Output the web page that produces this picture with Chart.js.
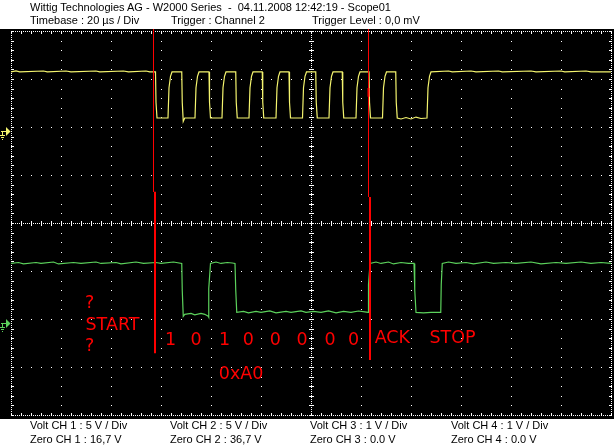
<!DOCTYPE html>
<html><head><meta charset="utf-8">
<script src="https://cdn.jsdelivr.net/npm/chart.js@4"></script>
<style>
html,body{margin:0;padding:0;background:#fff;}
#wrap{position:relative;width:614px;height:447px;overflow:hidden;}
canvas{position:absolute;left:0;top:0;}
.t{position:absolute;font-family:"Liberation Sans",Arial,sans-serif;font-size:11px;line-height:11px;color:#000;white-space:pre;}
.r{position:absolute;font-family:"DejaVu Sans",sans-serif;font-size:17.5px;line-height:17.5px;color:#ff0000;white-space:pre;}
</style></head>
<body>
<div id="wrap">
<canvas id="c" width="614" height="447"></canvas>
<div class="t" style="left:30px;top:2px">Wittig Technologies AG - W2000 Series  -  04.11.2008 12:42:19 - Scope01</div>
<div class="t" style="left:30px;top:15px">Timebase : 20 µs / Div</div>
<div class="t" style="left:171px;top:15px">Trigger : Channel 2</div>
<div class="t" style="left:312px;top:15px">Trigger Level : 0,0 mV</div>
<div class="t" style="left:30px;top:420px">Volt CH 1 : 5 V / Div</div>
<div class="t" style="left:170px;top:420px">Volt CH 2 : 5 V / Div</div>
<div class="t" style="left:310px;top:420px">Volt CH 3 : 1 V / Div</div>
<div class="t" style="left:451px;top:420px">Volt CH 4 : 1 V / Div</div>
<div class="t" style="left:30px;top:434px">Zero CH 1 : 16,7 V</div>
<div class="t" style="left:170px;top:434px">Zero CH 2 : 36,7 V</div>
<div class="t" style="left:310px;top:434px">Zero CH 3 : 0.0 V</div>
<div class="t" style="left:451px;top:434px">Zero CH 4 : 0.0 V</div>
<div class="r" style="left:85px;top:293.5px">?</div>
<div class="r" style="left:85.5px;top:316px">START</div>
<div class="r" style="left:85px;top:337px">?</div>
<div class="r" style="left:165px;top:330.7px">1</div>
<div class="r" style="left:190.5px;top:330.7px">0</div>
<div class="r" style="left:219px;top:330.7px">1</div>
<div class="r" style="left:242.8px;top:330.7px">0</div>
<div class="r" style="left:269.8px;top:330.7px">0</div>
<div class="r" style="left:296.5px;top:330.7px">0</div>
<div class="r" style="left:324.5px;top:330.7px">0</div>
<div class="r" style="left:348px;top:330.7px">0</div>
<div class="r" style="left:374.7px;top:329.2px">ACK</div>
<div class="r" style="left:429.5px;top:328.5px">STOP</div>
<div class="r" style="left:218.8px;top:364.5px">0xA0</div>
</div>
<script>
// ---- channel settings ----
const ch1VoltsPerDiv = 5;
const ch2VoltsPerDiv = 5;
const ch1GroundDiv = 1.917;   // ground marker of CH1, divisions above centre
const ch2GroundDiv = -2.083;  // ground marker of CH2
// time axis: 20 µs / div, 12 div
const timeMin = -120, timeMax = 120, timePerDiv = 20;
const divMin = -4, divMax = 4;

// ---- CH1 (SCL, yellow): time µs / volts ----
const ch1Time = [-120,-118,-116.5,-107,-105.5,-98,-96,-86,-84.5,-75,-73,-66,-64.5,
 -62.2,-62.0,-61.6,-57.2,-56.8,-56.2,-55.6,-51.7,-51.5,-51.1,-50.5,
 -46.4,-46.0,-45.4,-44.8,-40.8,-40.6,-40.2,-35.6,-35.2,-34.6,-34.0,-30.1,-29.9,-29.5,
 -24.8,-24.4,-23.8,-23.2,-19.5,-19.3,-18.9,-14.0,-13.6,-13.0,-12.4,-8.8,-8.6,-8.2,
 -3.4,-3.0,-2.4,-1.8,1.9,2.1,2.5,7.2,7.6,8.2,8.8,12.5,12.7,13.1,
 18.0,18.4,19.0,19.6,23.2,23.4,23.8,28.6,29.0,29.6,30.2,33.9,34.1,34.5,
 36,38,40,42,44,
 46.4,46.8,47.4,48.0,55,56.5,64,66,75,76.5,88,90,100,101.5,110,112,120];
const ch1Volt = [6.15,6.25,6.15,6.25,6.15,6.25,6.15,6.25,6.15,6.25,6.15,6.25,6.15,
 6.15,3.0,1.35,1.35,4.5,5.7,6.15,6.15,3.0,1.0,1.35,
 1.35,4.5,5.7,6.15,6.15,3.0,1.35,1.35,4.5,5.7,6.15,6.15,3.0,1.35,
 1.35,4.5,5.7,6.15,6.15,3.0,1.35,1.35,4.5,5.7,6.15,6.15,3.0,1.35,
 1.35,4.5,5.7,6.15,6.15,3.0,1.35,1.35,4.5,5.7,6.15,6.15,3.0,1.35,
 1.35,4.5,5.7,6.15,6.15,3.0,1.35,1.35,4.5,5.7,6.15,6.15,3.0,1.35,
 1.25,1.4,1.25,1.45,1.3,
 1.35,4.5,5.7,6.15,6.25,6.15,6.25,6.15,6.25,6.15,6.25,6.15,6.25,6.15,6.25,6.15,6.15];

// ---- CH2 (SDA, green): time µs / volts ----
const ch2Time = [-120,-117,-115,-110,-108,-103,-101,-95,-92,-86,-84,-78,-76,-70,-67,-62,-60,-55,
 -51.7,-51.5,-51.1,-50.5,-48,-46.5,-44,-42.5,-41.1,-40.9,-40.9,-40.2,
 -38,-36,-33.5,-31.5,-30.4,-30.1,-29.7,
 -27,-25,-22,-20,-16.5,-14,-10,-8,-4,-2,1,4,7,10,13,16,19,21.5,
 22.9,23.0,23.6,26,28,31,33,36,39,41.2,41.5,42.0,45,48,51.9,52.1,52.5,
 55,58,62,65,70,73,78,82,88,92,98,102,108,112,116,120];
const ch2Volt = [6.2,6.3,6.15,6.3,6.2,6.35,6.15,6.3,6.2,6.35,6.2,6.3,6.15,6.35,6.2,6.3,6.2,6.35,
 6.2,3.4,0.7,0.9,1.0,0.85,1.0,0.9,0.7,0.6,3.6,6.2,
 6.35,6.2,6.3,6.25,6.2,3.4,1.1,
 1.2,1.05,1.2,1.1,1.25,1.05,1.2,1.1,1.25,1.1,1.2,1.1,1.25,1.05,1.2,1.1,1.25,1.15,
 1.1,4.0,6.2,6.35,6.2,6.35,6.15,6.3,6.2,6.2,3.4,1.1,1.05,1.1,1.1,4.0,6.2,
 6.35,6.2,6.3,6.15,6.35,6.2,6.3,6.2,6.35,6.15,6.3,6.2,6.35,6.2,6.3,6.2];

// ---- red cursor segments: time µs, from / to (divisions) ----
const cursorTime = [-63.0,-62.4,23.0,23.6,23.0];
const cursorFrom = [4.04,0.652,4.04,0.542,2.81];
const cursorTo   = [0.652,-2.715,0.542,-2.854,2.63];
const cursorWidth = [1,2,1,2,2];

const ch1Color = '#f4f46e';
const ch2Color = '#5cd25c';

const toPoints = (ts, vs, g, vpd) => ts.map((t, i) => ({x: t, y: g + vs[i] / vpd}));

const datasets = [
  {data: toPoints(ch1Time, ch1Volt, ch1GroundDiv, ch1VoltsPerDiv), borderColor: ch1Color, borderWidth: 1.2, order: 2},
  {data: toPoints(ch2Time, ch2Volt, ch2GroundDiv, ch2VoltsPerDiv), borderColor: ch2Color, borderWidth: 1.2, order: 2}
];
cursorTime.forEach((t, i) => datasets.push({
  data: [{x: t, y: cursorFrom[i]}, {x: t, y: cursorTo[i]}],
  borderColor: '#ff0000', borderWidth: cursorWidth[i], borderCapStyle: 'butt', clip: false, order: 0
}));

const bgPlugin = {
  id: 'scopeBg',
  beforeDraw(chart) {
    const {ctx, chartArea: a} = chart;
    ctx.save();
    ctx.fillStyle = '#000';
    ctx.fillRect(0, a.top - 2, chart.width, a.bottom - a.top + 6);
    ctx.restore();
  }
};

const gridPlugin = {
  id: 'scopeGrid',
  beforeDatasetsDraw(chart) {
    const {ctx, scales: {x, y}} = chart;
    const xs = x.options.ticks.stepSize / 5, ys = y.options.ticks.stepSize / 5;
    const xMinor = [], yMinor = [];
    for (let k = 0; x.min + k * xs <= x.max + 1e-9; k++) xMinor.push(Math.round(x.getPixelForValue(x.min + k * xs)));
    for (let k = 0; y.min + k * ys <= y.max + 1e-9; k++) yMinor.push(Math.round(y.getPixelForValue(y.min + k * ys)));
    const xMajor = x.ticks.map(t => Math.round(x.getPixelForValue(t.value)));
    const yMajor = y.ticks.map(t => Math.round(y.getPixelForValue(t.value)));
    const L = Math.min(...xMajor), R = Math.max(...xMajor);
    const T = Math.min(...yMajor), B = Math.max(...yMajor);
    const cx = Math.round(x.getPixelForValue(0)), cy = Math.round(y.getPixelForValue(0));
    ctx.save();
    ctx.fillStyle = '#ffffff';
    const dot = (px, py, w = 1, h = 1) => ctx.fillRect(px, py, w, h);
    xMajor.forEach(px => { if (px === L || px === R || px === cx) return; yMinor.forEach(py => dot(px, py)); });
    yMajor.forEach(py => { if (py === T || py === B || py === cy) return; xMinor.forEach(px => dot(px, py)); });
    for (let py = T; py <= B; py += 2) { dot(L, py); dot(R, py); dot(cx, py); }
    for (let px = L; px <= R; px += 2) { dot(px, T); dot(px, B); dot(px, cy); }
    yMinor.forEach(py => { dot(L, py, 3, 1); dot(R - 2, py, 3, 1); dot(cx - 2, py, 5, 1); });
    xMinor.forEach(px => { dot(px, T, 1, 3); dot(px, B - 2, 1, 3); dot(px, cy - 2, 1, 5); });
    ctx.restore();
  }
};

const groundPlugin = {
  id: 'groundMarks',
  afterDatasetsDraw(chart) {
    const {ctx, scales: {y}} = chart;
    [[ch1GroundDiv, ch1Color], [ch2GroundDiv, ch2Color]].forEach(([g, c]) => {
      const py = Math.round(y.getPixelForValue(g));
      ctx.save();
      ctx.fillStyle = c;
      ctx.fillRect(1, py, 6, 1);
      ctx.beginPath();
      ctx.moveTo(6, py - 4); ctx.lineTo(10.5, py + 0.5); ctx.lineTo(6, py + 5); ctx.closePath(); ctx.fill();
      ctx.fillRect(2, py, 1, 4);
      ctx.fillRect(0, py + 4, 5, 1);
      ctx.fillRect(1, py + 6, 3, 1);
      ctx.fillRect(2, py + 8, 1, 1);
      ctx.restore();
    });
  }
};

new Chart(document.getElementById('c'), {
  type: 'line',
  data: {datasets},
  options: {
    responsive: false, animation: false, devicePixelRatio: 1, events: [],
    layout: {padding: {left: 11, right: 3, top: 31, bottom: 32}},
    plugins: {legend: {display: false}, tooltip: {enabled: false}},
    elements: {point: {radius: 0}, line: {tension: 0}},
    scales: {
      x: {type: 'linear', min: timeMin, max: timeMax, ticks: {display: false, stepSize: timePerDiv},
          grid: {display: false, drawTicks: false}, border: {display: false}},
      y: {type: 'linear', min: divMin, max: divMax, ticks: {display: false, stepSize: 1},
          grid: {display: false, drawTicks: false}, border: {display: false}}
    }
  },
  plugins: [bgPlugin, gridPlugin, groundPlugin]
});
</script>
</body></html>
